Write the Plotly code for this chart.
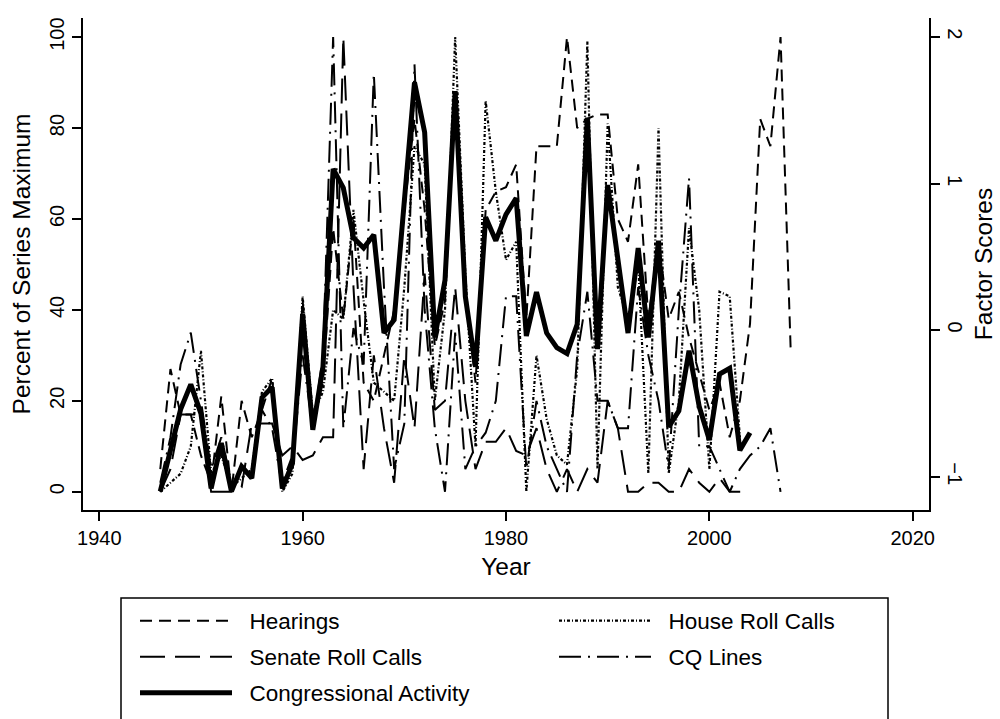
import plotly.graph_objects as go

years = list(range(1946, 2009))

hearings = [5, 27, 17, 17, 8, 2, 21, 0, 20, 12,
            18, 25, 2, 8, 42, 15, 24, 58, 38, 60,
            24, 20, 30, 40, 62, 82, 62, 32, 42, 88,
            45, 24, 62, 66, 67, 72, 38, 76, 76, 76,
            100, 80, 82, 83, 83, 60, 55, 72, 38, 55,
            38, 44, 34, 26, 18, 24, 12, 20, 37, 82,
            76, 100, 31]

house = [0, 2, 4, 10, 31, 4, 8, 1, 3, 5,
         22, 25, 0, 4, 43, 17, 22, 40, 38, 62,
         42, 24, 22, 20, 45, 76, 72, 20, 40, 100,
         48, 10, 86, 66, 51, 55, 0, 30, 16, 8,
         6, 27, 99, 5, 81, 45, 38, 50, 4, 80,
         4, 20, 58, 40, 5, 44, 43, 12]

senate = [0, 5, 17, 17, 17, 0, 0, 0, 1, 15,
          15, 15, 8, 10, 7, 8, 12, 12, 100, 45,
          5, 30, 14, 2, 30, 14, 48, 18, 20, 45,
          20, 5, 11, 11, 14, 9, 8, 14, 5, 0,
          5, 0, 5, 2, 20, 14, 0, 0, 2, 2,
          0, 0, 5, 2, 0, 3, 0, 0, 0]

cq_lines = [2, 12, 28, 35, 20, 5, 12, 2, 5, 3,
            18, 14, 1, 6, 30, 14, 30, 100, 14, 36,
            28, 92, 45, 5, 15, 94, 40, 14, 0, 35,
            5, 10, 13, 20, 43, 43, 5, 20, 10, 5,
            0, 30, 44, 20, 20, 14, 14, 45, 30, 20,
            5, 40, 69, 10, 10, 5, 0, 5, 8, 10,
            14, 0]

activity = [-1.10, -0.82, -0.54, -0.37, -0.57, -1.08, -0.77, -1.10, -0.93, -1.01,
            -0.46, -0.39, -1.08, -0.91, 0.11, -0.68, -0.25, 1.10, 0.97, 0.63,
            0.56, 0.65, -0.02, 0.07, 0.88, 1.69, 1.35, -0.05, 0.34, 1.63,
            0.23, -0.25, 0.77, 0.61, 0.79, 0.90, -0.04, 0.26, -0.02, -0.12,
            -0.16, 0.04, 1.45, -0.13, 0.99, 0.51, -0.02, 0.56, -0.05, 0.61,
            -0.66, -0.55, -0.14, -0.52, -0.75, -0.30, -0.26, -0.82, -0.70]

FONT = "Liberation Sans, Arial, sans-serif"
BLACK = "#000000"
NB = "\u00a0\u00a0"

fig = go.Figure()

fig.add_trace(go.Scatter(x=years[:len(hearings)], y=hearings, mode="lines", name=NB + "Hearings",
                         line=dict(color=BLACK, width=2, dash="12px,7px"), legend="legend"))
fig.add_trace(go.Scatter(x=years[:len(house)], y=house, mode="lines", name=NB + "House Roll Calls",
                         line=dict(color=BLACK, width=2.2, dash="3px,2px,1px,2px"), legend="legend"))
fig.add_trace(go.Scatter(x=years[:len(senate)], y=senate, mode="lines", name=NB + "Senate Roll Calls",
                         line=dict(color=BLACK, width=2, dash="25px,10px"), legend="legend2"))
fig.add_trace(go.Scatter(x=years[:len(cq_lines)], y=cq_lines, mode="lines", name=NB + "CQ Lines",
                         line=dict(color=BLACK, width=2, dash="22px,7px,2px,7px"), legend="legend2"))
fig.add_trace(go.Scatter(x=years[:len(activity)], y=activity, mode="lines", name=NB + "Congressional Activity",
                         line=dict(color=BLACK, width=5), yaxis="y2", legend="legend3"))

def row_legend(ypx):
    return dict(orientation="h", x=(135 - 83) / 846, xanchor="left",
                y=(510 - ypx) / 492, yanchor="middle",
                font=dict(family=FONT, size=22.5, color=BLACK),
                bgcolor="rgba(0,0,0,0)", borderwidth=0,
                itemwidth=92, entrywidth=312, entrywidthmode="pixels",
                traceorder="normal")

TICKFONT = dict(family=FONT, size=20, color=BLACK)
TITLEFONT = dict(family=FONT, size=24.5, color=BLACK)

axis_common = dict(showline=True, linecolor=BLACK, linewidth=2, ticks="outside",
                   ticklen=9, tickwidth=2, tickcolor=BLACK, showgrid=False, zeroline=False,
                   tickfont=TICKFONT, automargin=False)

fig.update_layout(
    width=1000, height=719,
    margin=dict(l=83, r=71, t=18, b=209, pad=0, autoexpand=False),
    paper_bgcolor="white", plot_bgcolor="white",
    font=dict(family=FONT, size=20, color=BLACK),
    showlegend=True,
    legend=row_legend(621),
    legend2=row_legend(657),
    legend3=row_legend(693),
    xaxis=dict(range=[1938.4, 2021.6], tickvals=[1940, 1960, 1980, 2000, 2020],
               title=dict(text="Year", font=TITLEFONT, standoff=10),
               **axis_common),
    yaxis=dict(range=[-4.0, 104.2], tickvals=[0, 20, 40, 60, 80, 100], tickangle=-90,
               title=dict(text="Percent of Series Maximum", font=TITLEFONT, standoff=8),
               **axis_common),
    yaxis2=dict(range=[-1.227, 2.129], tickvals=[-1, 0, 1, 2], tickangle=90,
                overlaying="y", side="right", anchor="x",
                title=dict(text="Factor Scores", font=TITLEFONT, standoff=10),
                **axis_common),
    shapes=[dict(type="rect", xref="paper", yref="paper",
                 x0=(121 - 83) / 846, x1=(888 - 83) / 846,
                 y0=-0.7, y1=(510 - 598) / 492,
                 line=dict(color=BLACK, width=1.5), fillcolor="rgba(0,0,0,0)")],
)

fig.write_html("out.html")
